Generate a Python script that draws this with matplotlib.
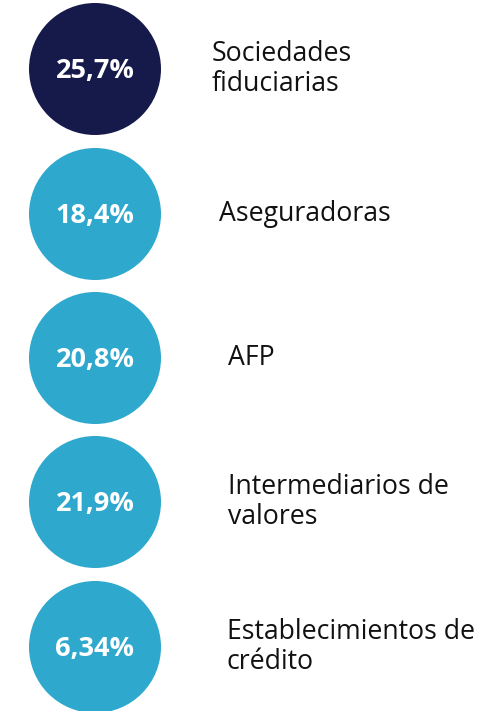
import matplotlib.pyplot as plt
from matplotlib.patches import Circle

# data
labels = ["Sociedades\nfiduciarias", "Aseguradoras", "AFP",
          "Intermediarios de\nvalores", "Establecimientos de\ncrédito"]
values = ["25,7%", "18,4%", "20,8%", "21,9%", "6,34%"]
colors = ["#151a4b", "#2ea8cd", "#2ea8cd", "#2ea8cd", "#2ea8cd"]

# layout (pixel coordinates)
centers_y = [69, 214, 358, 502, 647]
label_x = [212, 219, 228, 228, 227]
circle_x = 95
radius = 66

fig = plt.figure(figsize=(4.97, 7.11), dpi=100)
ax = fig.add_axes([0, 0, 1, 1])
ax.set_xlim(0, 497)
ax.set_ylim(711, 0)
ax.set_aspect("equal")
ax.axis("off")

for cy, val, lab, col, lx in zip(centers_y, values, labels, colors, label_x):
    ax.add_patch(Circle((circle_x, cy), radius, facecolor=col, edgecolor="none"))
    ax.text(circle_x, cy + 2, val, ha="center", va="center", color="white",
            fontsize=19.5, fontweight="bold", family="Open Sans")
    ax.text(lx, cy, lab, ha="left", va="center", color="#111111",
            fontsize=19.2, family="Open Sans", linespacing=1.13)

fig.savefig("out.png", dpi=100)
